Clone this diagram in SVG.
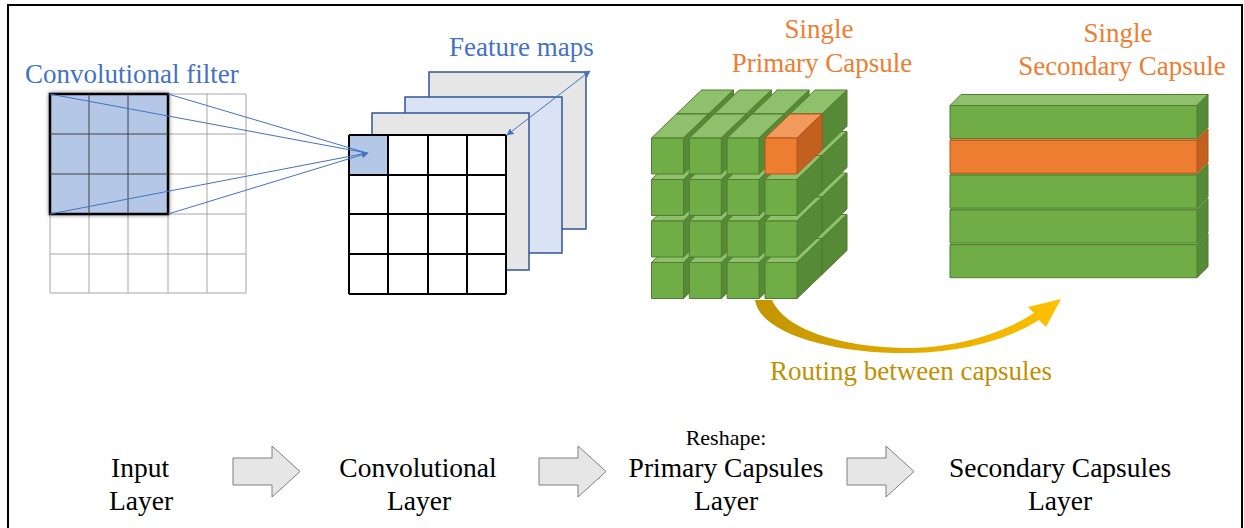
<svg xmlns="http://www.w3.org/2000/svg" xmlns:xlink="http://www.w3.org/1999/xlink" width="1244" height="528" viewBox="0 0 1244 528">
  <style>
    text { font-family: "Liberation Serif", "Times New Roman", Times, serif; }
    .blue-label { fill: #4472c4; font-size: 27px; }
    .orange-label { fill: #ed7d31; font-size: 27px; text-anchor: middle; }
    .layer-label { fill: #000; font-size: 27.5px; text-anchor: middle; }
    .grid-thin { stroke: #a6a6a6; stroke-width: 1; fill: none; }
    .grid-bold { stroke: #000; stroke-width: 2; fill: none; }
    .fmap { stroke: #2f5597; stroke-width: 1.5; }
    .ray { stroke: #4472c4; stroke-width: 1; fill: none; }
    .block-arrow { fill: #e7e6e6; stroke: #7f7f7f; stroke-width: 1; }
    .g-front { fill: #70ad47; }
    .g-top { fill: #8fc16c; }
    .g-side { fill: #578a36; }
    .o-front { fill: #ed7d31; }
    .o-top { fill: #f19a5c; }
    .o-side { fill: #c1601f; }
    .g-edge { stroke: #4f7f2f; stroke-width: 1; stroke-linejoin: round; }
    .o-edge { stroke: #b5561b; stroke-width: 1; stroke-linejoin: round; }
  </style>
  <defs>
    <marker id="tipBlue" viewBox="0 0 10 10" refX="9" refY="5" markerWidth="7" markerHeight="7" orient="auto-start-reverse" markerUnits="userSpaceOnUse">
      <path d="M0,0 L10,5 L0,10 Z" fill="#4472c4"/>
    </marker>
    <filter id="softShadow" x="-10%" y="-10%" width="120%" height="120%">
      <feGaussianBlur in="SourceAlpha" stdDeviation="2"/>
      <feComponentTransfer><feFuncA type="linear" slope="0.5"/></feComponentTransfer>
      <feMerge><feMergeNode/><feMergeNode in="SourceGraphic"/></feMerge>
    </filter>
    <linearGradient id="routeGrad" x1="755" y1="0" x2="1060" y2="0" gradientUnits="userSpaceOnUse">
      <stop offset="0" stop-color="#c29400"/>
      <stop offset="1" stop-color="#ffc000"/>
    </linearGradient>
    <!-- one green cube: front, top and right faces -->
    <g id="cubeGreen" class="g-edge">
      <polygon class="g-top" points="0,0 25,-24 57,-24 32,0"/>
      <polygon class="g-side" points="32,0 57,-24 57,12 32,36"/>
      <rect class="g-front" x="0" y="0" width="32" height="36"/>
    </g>
    <g id="cubeOrange" class="o-edge">
      <polygon class="o-top" points="0,0 25,-24 57,-24 32,0"/>
      <polygon class="o-side" points="32,0 57,-24 57,12 32,36"/>
      <rect class="o-front" x="0" y="0" width="32" height="36"/>
    </g>
    <!-- one long slab of the secondary capsule layer -->
    <g id="slabGreen" class="g-edge">
      <polygon class="g-top" points="0,0 11,-11 258,-11 247,0"/>
      <polygon class="g-side" points="247,0 258,-11 258,22 247,33"/>
      <rect class="g-front" x="0" y="0" width="247" height="33"/>
    </g>
    <g id="slabOrange" class="o-edge">
      <polygon class="o-top" points="0,0 11,-11 258,-11 247,0"/>
      <polygon class="o-side" points="247,0 258,-11 258,22 247,33"/>
      <rect class="o-front" x="0" y="0" width="247" height="33"/>
    </g>
  </defs>

  <rect x="0" y="0" width="1244" height="528" fill="#fff"/>
  <!-- frame -->
  <rect x="8" y="5" width="1234" height="540" fill="none" stroke="#000" stroke-width="2"/>

  <!-- input image with 3x3 filter window -->
  <g id="input-grid">
    <rect x="50" y="94" width="196" height="199" fill="#fff"/>
    <path class="grid-thin" d="M50,94 H246 M50,134 H246 M50,174 H246 M50,214 H246 M50,254 H246 M50,293 H246 M50,94 V293 M89,94 V293 M128,94 V293 M168,94 V293 M207,94 V293 M246,94 V293"/>
    <g filter="url(#softShadow)">
      <rect x="50" y="94" width="118" height="120" fill="#b4c7e7" stroke="#000" stroke-width="2.5"/>
    </g>
    <path d="M89,94 V214 M128,94 V214 M50,134 H168 M50,174 H168" stroke="#404040" stroke-width="1" fill="none"/>
  </g>

  <!-- stacked feature maps -->
  <g id="feature-maps">
    <rect class="fmap" x="429" y="72" width="157" height="157" fill="#e7e6e6"/>
    <rect class="fmap" x="405" y="97" width="157" height="156" fill="#dae3f3"/>
    <rect class="fmap" x="372" y="113" width="157" height="157" fill="#e7e6e6"/>
    <rect x="349" y="135" width="157" height="159" fill="#fff"/>
    <rect x="349" y="135" width="39" height="40" fill="#b4c7e7"/>
    <path class="grid-bold" d="M349,135 H506 M349,175 H506 M349,214 H506 M349,254 H506 M349,294 H506 M349,135 V294 M388,135 V294 M428,135 V294 M467,135 V294 M506,135 V294"/>
  </g>

  <!-- primary capsules: 4 x 4 x 2 block of cubes -->
  <g id="primary-capsules">
    <!-- back layer, bottom row first -->
    <use xlink:href="#cubeGreen" x="676.5" y="238.5"/>
    <use xlink:href="#cubeGreen" x="714.3" y="238.5"/>
    <use xlink:href="#cubeGreen" x="752.1" y="238.5"/>
    <use xlink:href="#cubeGreen" x="790" y="238.5"/>
    <use xlink:href="#cubeGreen" x="676.5" y="197"/>
    <use xlink:href="#cubeGreen" x="714.3" y="197"/>
    <use xlink:href="#cubeGreen" x="752.1" y="197"/>
    <use xlink:href="#cubeGreen" x="790" y="197"/>
    <use xlink:href="#cubeGreen" x="676.5" y="155.5"/>
    <use xlink:href="#cubeGreen" x="714.3" y="155.5"/>
    <use xlink:href="#cubeGreen" x="752.1" y="155.5"/>
    <use xlink:href="#cubeGreen" x="790" y="155.5"/>
    <use xlink:href="#cubeGreen" x="676.5" y="114"/>
    <use xlink:href="#cubeGreen" x="714.3" y="114"/>
    <use xlink:href="#cubeGreen" x="752.1" y="114"/>
    <use xlink:href="#cubeGreen" x="790" y="114"/>
    <!-- front layer -->
    <use xlink:href="#cubeGreen" x="651.5" y="262.5"/>
    <use xlink:href="#cubeGreen" x="689.3" y="262.5"/>
    <use xlink:href="#cubeGreen" x="727.1" y="262.5"/>
    <use xlink:href="#cubeGreen" x="765" y="262.5"/>
    <use xlink:href="#cubeGreen" x="651.5" y="221"/>
    <use xlink:href="#cubeGreen" x="689.3" y="221"/>
    <use xlink:href="#cubeGreen" x="727.1" y="221"/>
    <use xlink:href="#cubeGreen" x="765" y="221"/>
    <use xlink:href="#cubeGreen" x="651.5" y="179.5"/>
    <use xlink:href="#cubeGreen" x="689.3" y="179.5"/>
    <use xlink:href="#cubeGreen" x="727.1" y="179.5"/>
    <use xlink:href="#cubeGreen" x="765" y="179.5"/>
    <use xlink:href="#cubeGreen" x="651.5" y="138"/>
    <use xlink:href="#cubeGreen" x="689.3" y="138"/>
    <use xlink:href="#cubeGreen" x="727.1" y="138"/>
    <use xlink:href="#cubeOrange" x="765" y="138"/>
  </g>

  <!-- secondary capsules: stacked slabs -->
  <g id="secondary-capsules">
    <use xlink:href="#slabGreen" x="950" y="244.7"/>
    <use xlink:href="#slabGreen" x="950" y="209.9"/>
    <use xlink:href="#slabGreen" x="950" y="175.1"/>
    <use xlink:href="#slabOrange" x="950" y="140.3"/>
    <use xlink:href="#slabGreen" x="950" y="105.5"/>
  </g>

  <!-- connectors -->
  <g id="connectors">
    <line class="ray" x1="50" y1="94" x2="367" y2="153"/>
    <line class="ray" x1="168" y1="94" x2="367" y2="153"/>
    <line class="ray" x1="50" y1="214" x2="367" y2="153"/>
    <line class="ray" x1="168" y1="214" x2="368" y2="153" marker-end="url(#tipBlue)"/>
    <line class="ray" x1="507" y1="135" x2="590" y2="71" marker-start="url(#tipBlue)" marker-end="url(#tipBlue)"/>
    <path id="routing-arrow" fill="url(#routeGrad)" d="M755,300 C760,334 835,354 910,353 C968,352 1012,337 1039,320 L1046,327 L1061,299 L1028,307 L1034,313 C1008,330 966,347 910,348 C848,348 786,332 772,300 Z"/>
    <path class="block-arrow" d="M233,458 H272 V446 L300,471.5 L272,497 V485 H233 Z"/>
    <path class="block-arrow" d="M539,458 H578 V446 L606,471.5 L578,497 V485 H539 Z"/>
    <path class="block-arrow" d="M847,458 H886 V446 L914,471.5 L886,497 V485 H847 Z"/>
  </g>

  <!-- upper labels -->
  <g id="upper-labels">
    <text class="blue-label" x="25" y="83">Convolutional filter</text>
    <text class="blue-label" x="449" y="56">Feature maps</text>
    <text class="orange-label" x="819" y="38">Single</text>
    <text class="orange-label" x="822" y="72">Primary Capsule</text>
    <text class="orange-label" x="1118" y="42">Single</text>
    <text class="orange-label" x="1122" y="75">Secondary Capsule</text>
    <text x="911" y="380" text-anchor="middle" fill="#bf9000" font-size="27px">Routing between capsules</text>
  </g>

  <!-- pipeline stages -->
  <g id="stage-input">
    <text class="layer-label" x="140" y="477">Input</text>
    <text class="layer-label" x="141" y="510">Layer</text>
  </g>
  <g id="stage-conv">
    <text class="layer-label" x="418" y="477">Convolutional</text>
    <text class="layer-label" x="419" y="510">Layer</text>
  </g>
  <g id="stage-primary">
    <text x="726" y="445" text-anchor="middle" font-size="22px" fill="#000">Reshape:</text>
    <text class="layer-label" x="726" y="477">Primary Capsules</text>
    <text class="layer-label" x="726" y="510">Layer</text>
  </g>
  <g id="stage-secondary">
    <text class="layer-label" x="1060" y="477">Secondary Capsules</text>
    <text class="layer-label" x="1060" y="510">Layer</text>
  </g>
</svg>
